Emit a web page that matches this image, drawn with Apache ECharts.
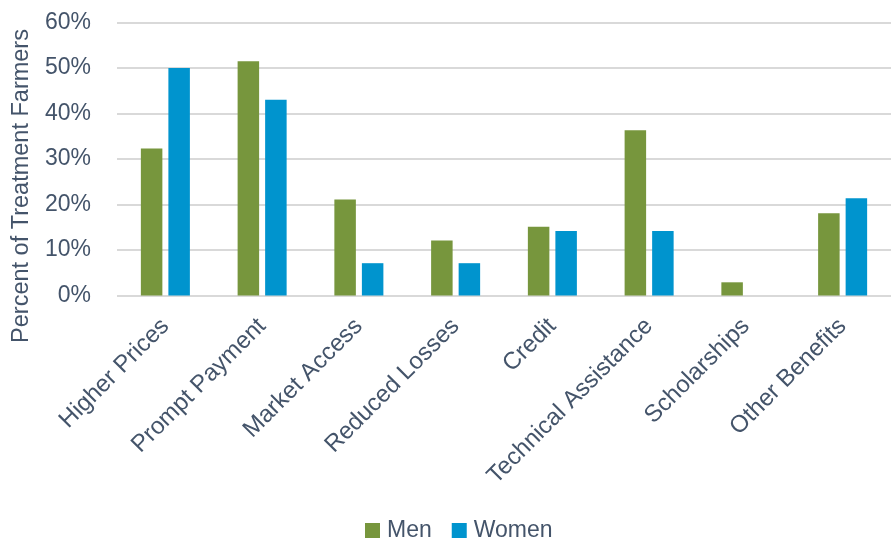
<!DOCTYPE html>
<html>
<head>
<meta charset="utf-8">
<script src="https://cdn.jsdelivr.net/npm/echarts@6/dist/echarts.min.js"></script>
<style>
	html, body { margin: 0; padding: 0; background: #fff; }
	#chart { width: 892px; height: 544px; }
</style>
</head>
<body>
<div id="chart"></div>
<script>
	const categories = ["Higher Prices", "Prompt Payment", "Market Access", "Reduced Losses",
		"Credit", "Technical Assistance", "Scholarships", "Other Benefits"];
	const menValues = [32.3, 51.5, 21.1, 12.1, 15.1, 36.3, 2.9, 18.1];
	const womenValues = [50.0, 43.0, 7.1, 7.1, 14.2, 14.2, 0, 21.4];
	const seriesNames = ["Men", "Women"];
	const yTicks = { min: 0, max: 60, interval: 10 };

	const textColor = "#44546A";
	const font = "Liberation Sans, Arial, sans-serif";

	const chart = echarts.init(document.getElementById("chart"));
	chart.setOption({
		animation: false,
		textStyle: { fontFamily: font, color: textColor },
		grid: { left: 117, right: 1, top: 22.5, bottom: 248.5, containLabel: false },
		legend: {
			data: seriesNames,
			top: 514,
			left: 360,
			itemWidth: 15,
			itemHeight: 15,
			itemGap: 20,
			icon: "rect",
			textStyle: { fontSize: 23, color: textColor, fontFamily: font, padding: [0, 0, 0, 2] }
		},
		graphic: [{
			type: "text",
			x: 22,
			y: 186,
			rotation: Math.PI / 2,
			style: {
				text: "Percent of Treatment Farmers",
				fill: textColor,
				font: "23.5px " + font,
				align: "center",
				verticalAlign: "middle"
			}
		}],
		xAxis: {
			type: "category",
			data: categories,
			axisLine: { show: false },
			axisTick: { show: false },
			axisLabel: {
				interval: 0,
				rotate: 45,
				margin: 27,
				fontSize: 24,
				color: textColor,
				fontFamily: font
			}
		},
		yAxis: {
			type: "value",
			min: yTicks.min,
			max: yTicks.max,
			interval: yTicks.interval,
			axisLine: { show: false },
			axisTick: { show: false },
			axisLabel: {
				formatter: "{value}%",
				fontSize: 23,
				margin: 26,
				color: textColor,
				fontFamily: font
			},
			splitLine: { lineStyle: { color: "#D9D9D9", width: 2 } }
		},
		series: [
			{
				name: seriesNames[0],
				type: "bar",
				data: menValues,
				barWidth: 21.5,
				barGap: "28%",
				itemStyle: { color: "#77963D" }
			},
			{
				name: seriesNames[1],
				type: "bar",
				data: womenValues,
				barWidth: 21.5,
				itemStyle: { color: "#0094CE" }
			}
		]
	});
</script>
</body>
</html>
